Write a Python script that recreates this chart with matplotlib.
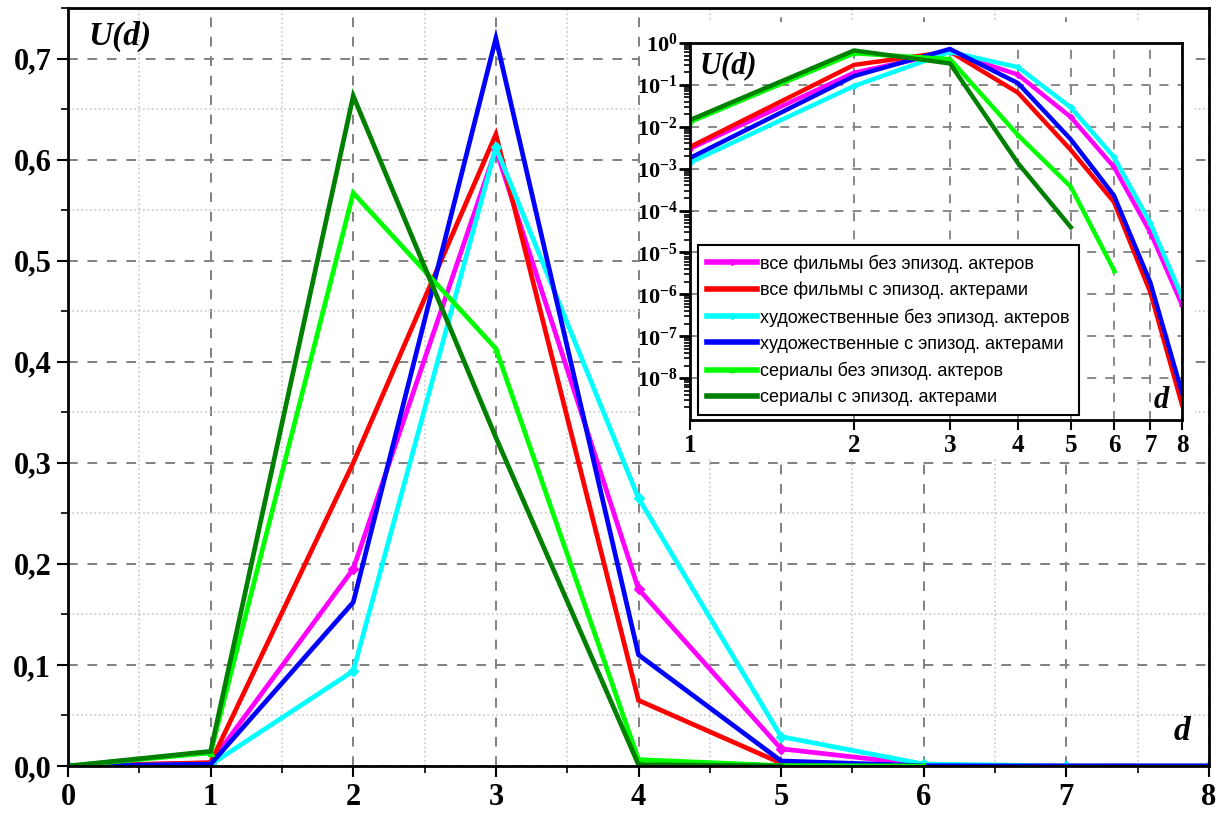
import numpy as np
import matplotlib
matplotlib.use("Agg")
import matplotlib.pyplot as plt
from matplotlib.patches import Rectangle
from matplotlib.ticker import FixedLocator, MultipleLocator, NullLocator, FuncFormatter

# ---- data ----
d_main = [0, 1, 2, 3, 4, 5, 6, 7, 8]
u_all_no_ep = [0, 0.003, 0.195, 0.61, 0.175, 0.017, 0.0011, 3e-5, 5.6e-7]
u_all_ep = [0, 0.0033, 0.30, 0.625, 0.065, 0.0028, 1.6e-4, 1.1e-6, 2.3e-9]
u_feat_no_ep = [0, 0.0014, 0.094, 0.612, 0.265, 0.029, 1.9e-3, 5e-5, 8.7e-7]
u_feat_ep = [0, 0.0018, 0.162, 0.72, 0.11, 0.005, 2.3e-4, 1.9e-6, 4.5e-9]
u_ser_no_ep = [0, 0.013, 0.567, 0.413, 0.0063, 3.7e-4, 3.8e-6]
u_ser_ep = [0, 0.0145, 0.663, 0.325, 0.00135, 4e-5]

labels = [
    "все фильмы без эпизод. актеров",
    "все фильмы с эпизод. актерами",
    "художественные без эпизод. актеров",
    "художественные с эпизод. актерами",
    "сериалы без эпизод. актеров",
    "сериалы с эпизод. актерами",
]
colors = ["#ff00ff", "#ff0000", "#00ffff", "#0000ff", "#00ff00", "#008000"]
markers = ["D", None, "D", None, "^", None]
series = [u_all_no_ep, u_all_ep, u_feat_no_ep, u_feat_ep, u_ser_no_ep, u_ser_ep]

y_ticks = [0.0, 0.1, 0.2, 0.3, 0.4, 0.5, 0.6, 0.7]
x_ticks = [0, 1, 2, 3, 4, 5, 6, 7, 8]
log_exps = [0, -1, -2, -3, -4, -5, -6, -7, -8]

plt.rcParams["font.family"] = ["Liberation Serif", "DejaVu Serif"]
plt.rcParams["mathtext.fontset"] = "custom"
plt.rcParams["mathtext.rm"] = "Liberation Serif:bold"
plt.rcParams["mathtext.it"] = "Liberation Serif:bold:italic"
plt.rcParams["mathtext.bf"] = "Liberation Serif:bold"
plt.rcParams["mathtext.default"] = "rm"

fig = plt.figure(figsize=(12.21, 8.16), dpi=100)

# ---- main axes ----
ax = fig.add_axes([68 / 1221, 50 / 816, 1141 / 1221, 758 / 816])
for i, u in enumerate(series):
    ax.plot(d_main[:len(u)], u, color=colors[i], lw=3.4, marker=markers[i],
            ms=5, solid_joinstyle="miter")
ax.set_xlim(0, 8)
ax.set_ylim(0, 0.75)
ax.xaxis.set_major_locator(FixedLocator(x_ticks))
ax.xaxis.set_minor_locator(MultipleLocator(0.5))
ax.yaxis.set_major_locator(FixedLocator(y_ticks))
ax.yaxis.set_minor_locator(MultipleLocator(0.05))
ax.set_xticklabels([str(t) for t in x_ticks])
ax.set_yticklabels([f"{t:.1f}".replace(".", ",") for t in y_ticks])
for lab in ax.get_xticklabels() + ax.get_yticklabels():
    lab.set_fontweight("bold")
    lab.set_fontsize(22)
ax.tick_params(which="major", direction="out", length=8, width=1.5, pad=4)
ax.tick_params(which="minor", direction="out", length=5, width=1.2)
ax.grid(which="major", color="#808080", ls=(0, (5, 5)), lw=1.4)
ax.grid(which="minor", color="#c8c8c8", ls=":", lw=1.2)
ax.set_axisbelow(True)
for s in ax.spines.values():
    s.set_linewidth(2)
ax.text(0.018, 0.962, "U(d)", transform=ax.transAxes, fontsize=24,
        fontweight="bold", fontstyle="italic", va="center", ha="left")
ax.text(0.976, 0.045, "d", transform=ax.transAxes, fontsize=24,
        fontweight="bold", fontstyle="italic", va="center", ha="center")

# white area behind the inset
fig.patches.append(Rectangle((640 / 1221, 358 / 816), 555 / 1221, 436 / 816,
                             transform=fig.transFigure, facecolor="white",
                             edgecolor="none", zorder=1))

# ---- inset (log-log) ----
axi = fig.add_axes([690 / 1221, 396 / 816, 492 / 1221, 377 / 816])
axi.set_zorder(3)
for i, u in enumerate(series):
    axi.plot(d_main[1:len(u)], u[1:], color=colors[i], lw=3.2, marker=markers[i],
             ms=3, label=labels[i])
axi.set_xscale("log")
axi.set_yscale("log")
axi.set_xlim(1, 8)
axi.set_ylim(1e-9, 1)
axi.xaxis.set_major_locator(FixedLocator(x_ticks[1:]))
axi.xaxis.set_minor_locator(NullLocator())
axi.xaxis.set_major_formatter(FuncFormatter(lambda v, p: f"{int(round(v))}"))
axi.yaxis.set_major_locator(FixedLocator([10.0 ** e for e in log_exps]))
axi.yaxis.set_minor_locator(FixedLocator(
    [m * 10.0 ** e for e in range(-9, 0) for m in range(2, 10)]))
axi.yaxis.set_major_formatter(FuncFormatter(
    lambda v, p: f"$10^{{{int(round(np.log10(v)))}}}$"))
for lab in axi.get_xticklabels():
    lab.set_fontweight("bold")
axi.tick_params(axis="x", which="major", direction="out", length=7, width=1.5,
                labelsize=18, pad=3)
axi.tick_params(axis="y", which="major", direction="out", length=8, width=2,
                labelsize=16, pad=1)
axi.tick_params(axis="y", which="minor", direction="out", length=4, width=1.2)
axi.grid(which="major", color="#808080", ls=(0, (5, 5)), lw=1.3)
axi.set_axisbelow(True)
for s in axi.spines.values():
    s.set_linewidth(2)
axi.text(0.02, 0.94, "U(d)", transform=axi.transAxes, fontsize=22,
         fontweight="bold", fontstyle="italic", va="center", ha="left")
axi.text(0.957, 0.053, "d", transform=axi.transAxes, fontsize=22,
         fontweight="bold", fontstyle="italic", va="center", ha="center")

leg = axi.legend(loc="lower left", bbox_to_anchor=(0.016, 0.013),
                 borderaxespad=0, fancybox=False, framealpha=1,
                 edgecolor="black", handlelength=2.8, handletextpad=0.15,
                 labelspacing=0.5, borderpad=0.5,
                 prop={"family": "Liberation Sans", "size": 13})
leg.get_frame().set_linewidth(1.5)
for line in leg.get_lines():
    line.set_linewidth(4)

fig.savefig("out.png", dpi=100)
